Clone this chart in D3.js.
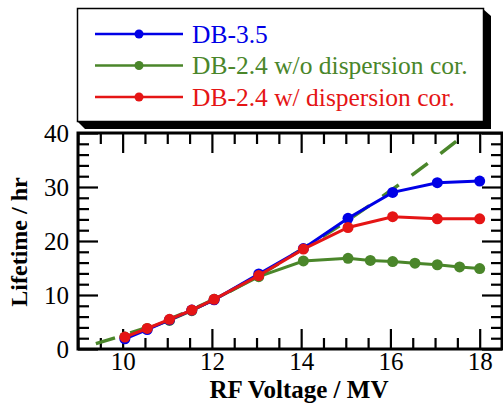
<!DOCTYPE html>
<html>
<head>
<meta charset="utf-8">
<script src="https://cdn.jsdelivr.net/npm/d3@7"></script>
</head>
<body style="margin:0; background:#fff">
<div id="chart"></div>
<script>
var width = 503,
    height = 405;
var serif = "Liberation Serif";

// data
var xDB35  = [10.05, 10.55, 11.05, 11.55, 12.05, 13.05, 14.05, 15.05, 16.05, 17.05, 18.0];
var yDB35  = [1.9, 3.6, 5.4, 7.2, 9.1, 13.9, 18.6, 24.2, 29.0, 30.8, 31.1];
var xNoCor = [10.05, 10.55, 11.05, 11.55, 12.05, 13.05, 14.05, 15.05, 15.55, 16.05, 16.55, 17.05, 17.55, 18.0];
var yNoCor = [2.2, 3.8, 5.3, 7.1, 9.2, 13.4, 16.3, 16.8, 16.4, 16.2, 15.9, 15.6, 15.2, 14.9];
var xCor   = [10.05, 10.55, 11.05, 11.55, 12.05, 13.05, 14.05, 15.05, 16.05, 17.05, 18.0];
var yCor   = [2.2, 3.8, 5.5, 7.2, 9.2, 13.6, 18.5, 22.5, 24.5, 24.1, 24.1];
// dashed trend of the w/o-correction case
var xTrend = [9.4, 10, 11, 12, 13, 14, 15, 16, 17, 17.8];
var yTrend = [1.0, 2.5, 5.4, 9.0, 13.4, 18.4, 23.6, 29.3, 35.4, 40.6];

var xMajor = [10, 12, 14, 16, 18];
var yMajor = [0, 10, 20, 30, 40];

var legendNames = ["DB-3.5", "DB-2.4 w/o dispersion cor.", "DB-2.4 w/ dispersion cor."];
var colors = ["#0000e6", "#4a862a", "#e51515"];

var svg = d3.select("#chart").append("svg")
    .attr("width", width)
    .attr("height", height);

var x = d3.scaleLinear().domain([9, 18.5]).range([78, 502]);
var y = d3.scaleLinear().domain([0, 40]).range([349, 133]);

var xMinor = d3.range(9, 18.51, 0.5).filter(function(d) { return d % 2 != 0; });
var yMinor = d3.range(0, 40.1, 2).filter(function(d) { return d % 10 != 0; });

function styleAxis(g) {
  g.select(".domain").remove();
  g.selectAll("line").attr("stroke", "#000").attr("stroke-width", 2.2);
  g.selectAll("text")
    .style("font-family", serif)
    .style("font-size", "25px")
    .attr("fill", "#000");
}

// ticks, all pointing inward
svg.append("g").attr("transform", "translate(0,349)")
  .call(d3.axisBottom(x).tickValues(xMajor).tickSize(-20).tickPadding(3).tickFormat(d3.format("d")))
  .call(styleAxis);
svg.append("g").attr("transform", "translate(0,349)")
  .call(d3.axisBottom(x).tickValues(xMinor).tickSize(-11).tickFormat(""))
  .call(styleAxis);
svg.append("g").attr("transform", "translate(0,133)")
  .call(d3.axisTop(x).tickValues(xMajor).tickSize(-20).tickFormat(""))
  .call(styleAxis);
svg.append("g").attr("transform", "translate(0,133)")
  .call(d3.axisTop(x).tickValues(xMinor).tickSize(-11).tickFormat(""))
  .call(styleAxis);
svg.append("g").attr("transform", "translate(78,0)")
  .call(d3.axisLeft(y).tickValues(yMajor).tickSize(-20).tickPadding(9).tickFormat(d3.format("d")))
  .call(styleAxis);
svg.append("g").attr("transform", "translate(78,0)")
  .call(d3.axisLeft(y).tickValues(yMinor).tickSize(-11).tickFormat(""))
  .call(styleAxis);
svg.append("g").attr("transform", "translate(502,0)")
  .call(d3.axisRight(y).tickValues(yMajor).tickSize(-20).tickFormat(""))
  .call(styleAxis);
svg.append("g").attr("transform", "translate(502,0)")
  .call(d3.axisRight(y).tickValues(yMinor).tickSize(-11).tickFormat(""))
  .call(styleAxis);

// clip for the plot area
svg.append("clipPath").attr("id", "plotclip")
  .append("rect").attr("x", 78).attr("y", 133).attr("width", 424).attr("height", 216);

var line = d3.line()
    .x(function(d) { return x(d[0]); })
    .y(function(d) { return y(d[1]); });

var plot = svg.append("g").attr("clip-path", "url(#plotclip)");

plot.append("path")
  .datum(d3.zip(xTrend, yTrend))
  .attr("d", line.curve(d3.curveMonotoneX))
  .attr("fill", "none")
  .attr("stroke", colors[1])
  .attr("stroke-width", 3.5)
  .attr("stroke-dasharray", "20,16");

line.curve(d3.curveLinear);

var series = [
  { xs: xNoCor, ys: yNoCor, color: colors[1] },
  { xs: xDB35, ys: yDB35, color: colors[0] },
  { xs: xCor, ys: yCor, color: colors[2] }
];

series.forEach(function(s) {
  var pts = d3.zip(s.xs, s.ys);
  svg.append("path")
    .datum(pts)
    .attr("d", line)
    .attr("fill", "none")
    .attr("stroke", s.color)
    .attr("stroke-width", 3);
  svg.selectAll(null)
    .data(pts)
    .enter().append("circle")
    .attr("cx", function(d) { return x(d[0]); })
    .attr("cy", function(d) { return y(d[1]); })
    .attr("r", 5.5)
    .attr("fill", s.color);
});

// frame
svg.append("rect")
  .attr("x", 78).attr("y", 133)
  .attr("width", 424).attr("height", 216)
  .attr("fill", "none")
  .attr("stroke", "#000")
  .attr("stroke-width", 3);

// legend with drop shadow
svg.append("polygon")
  .attr("points", "483,9 491,16 491,129 85,129 78,122")
  .attr("fill", "#000");
svg.append("rect")
  .attr("x", 77.5).attr("y", 8.5)
  .attr("width", 406).attr("height", 113)
  .attr("fill", "#fff")
  .attr("stroke", "#000")
  .attr("stroke-width", 1.5);

var legend = svg.selectAll(".legend")
    .data(legendNames)
  .enter().append("g")
    .attr("class", "legend")
    .attr("transform", function(d, i) { return "translate(0," + (34 + i * 31.5) + ")"; });

legend.append("line")
  .attr("x1", 95).attr("x2", 183)
  .attr("stroke", function(d, i) { return colors[i]; })
  .attr("stroke-width", 2.5);
legend.append("circle")
  .attr("cx", 139).attr("r", 4.5)
  .attr("fill", function(d, i) { return colors[i]; });
legend.append("text")
  .attr("x", 192).attr("y", 8.5)
  .style("font-family", serif)
  .style("font-size", "25.5px")
  .attr("fill", function(d, i) { return colors[i]; })
  .text(function(d) { return d; });

// axis titles
svg.append("text")
  .attr("transform", "translate(27,242) rotate(-90)")
  .attr("text-anchor", "middle")
  .style("font-family", serif)
  .style("font-size", "24px")
  .style("font-weight", "bold")
  .text("Lifetime / hr");

svg.append("text")
  .attr("x", 299).attr("y", 398)
  .attr("text-anchor", "middle")
  .style("font-family", serif)
  .style("font-size", "25px")
  .style("font-weight", "bold")
  .text("RF Voltage / MV");
</script>
</body>
</html>
